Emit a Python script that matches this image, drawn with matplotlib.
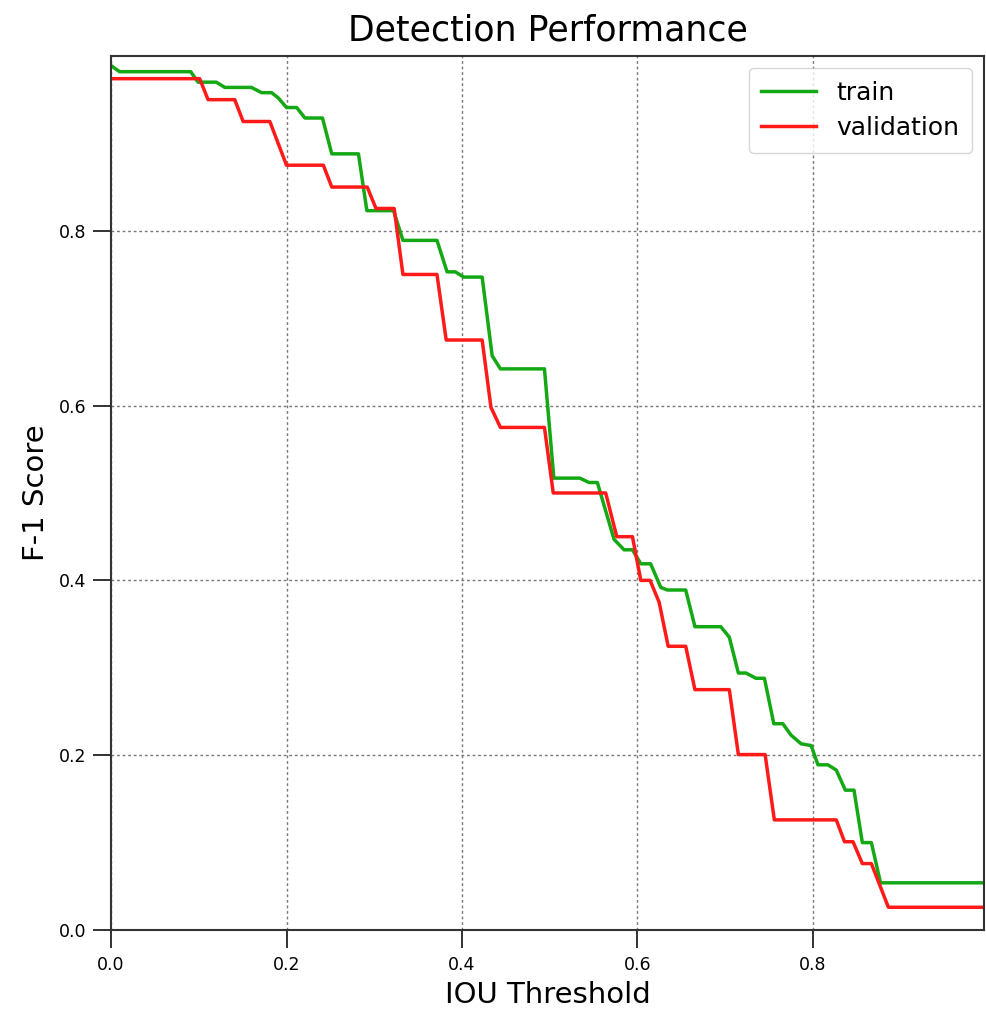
import matplotlib
matplotlib.use("Agg")
import matplotlib.pyplot as plt

# --- data ---
train_x = [0.000, 0.0097, 0.0908, 0.0992, 0.120, 0.1297, 0.160, 0.1716, 0.183, 0.1906,
           0.200, 0.2116, 0.221, 0.241, 0.2516, 0.282, 0.2916, 0.322, 0.3327, 0.3715,
           0.383, 0.3924, 0.402, 0.423, 0.4344, 0.4438, 0.494, 0.5047, 0.5344, 0.5447,
           0.5543, 0.5733, 0.5847, 0.5943, 0.6038, 0.615, 0.6266, 0.634, 0.655, 0.6655,
           0.695, 0.7047, 0.715, 0.7237, 0.735, 0.7447, 0.7554, 0.7657, 0.775, 0.7866,
           0.798, 0.8057, 0.817, 0.8266, 0.8369, 0.8468, 0.8563, 0.8666, 0.877, 0.995]
train_y = [0.989, 0.982, 0.982, 0.970, 0.970, 0.964, 0.964, 0.958, 0.958, 0.952,
           0.941, 0.941, 0.929, 0.929, 0.888, 0.888, 0.823, 0.823, 0.789, 0.789,
           0.753, 0.753, 0.747, 0.747, 0.657, 0.642, 0.642, 0.517, 0.517, 0.512,
           0.512, 0.447, 0.435, 0.435, 0.419, 0.419, 0.392, 0.389, 0.389, 0.347,
           0.347, 0.335, 0.294, 0.294, 0.288, 0.288, 0.236, 0.236, 0.223, 0.213,
           0.211, 0.189, 0.189, 0.183, 0.160, 0.160, 0.100, 0.100, 0.054, 0.054]

val_x = [0.000, 0.101, 0.1106, 0.141, 0.1506, 0.181, 0.200, 0.242, 0.2516, 0.292,
         0.302, 0.3227, 0.3327, 0.3715, 0.382, 0.423, 0.433, 0.4438, 0.494, 0.504,
         0.5638, 0.5764, 0.5943, 0.6038, 0.6144, 0.6247, 0.635, 0.655, 0.6655, 0.7047,
         0.715, 0.7455, 0.756, 0.8266, 0.836, 0.8457, 0.8563, 0.8666, 0.886, 0.995]
val_y = [0.974, 0.974, 0.950, 0.950, 0.925, 0.925, 0.875, 0.875, 0.850, 0.850,
         0.8255, 0.8255, 0.750, 0.750, 0.675, 0.675, 0.598, 0.575, 0.575, 0.500,
         0.500, 0.450, 0.450, 0.400, 0.400, 0.375, 0.3246, 0.3246, 0.275, 0.275,
         0.2007, 0.2007, 0.126, 0.126, 0.101, 0.101, 0.076, 0.076, 0.026, 0.026]

x_ticks = [0.0, 0.2, 0.4, 0.6, 0.8]
y_ticks = [0.0, 0.2, 0.4, 0.6, 0.8]

plt.rcParams["font.family"] = ["DejaVu Sans"]

fig = plt.figure(figsize=(9.86, 10.10), dpi=100)
ax = fig.add_axes([0.1126, 0.0792, 0.8854, 0.8654])

ax.plot(train_x, train_y, color="#15a815", lw=2.5, label="train")
ax.plot(val_x, val_y, color="#ff1a1a", lw=2.5, label="validation")

ax.set_xlim(0, 0.995)
ax.set_ylim(0, 1.0)
ax.set_xticks(x_ticks)
ax.set_yticks(y_ticks)
ax.set_xticklabels([f"{v:.1f}" for v in x_ticks])
ax.set_yticklabels([f"{v:.1f}" for v in y_ticks])
ax.tick_params(axis="both", labelsize=12.5, length=13, width=1.3, color="#222222")
ax.tick_params(axis="x", pad=6)
ax.tick_params(axis="y", pad=5)
ax.grid(True, color="#777777", linestyle=(0, (2, 2)), linewidth=1.0)
for s in ax.spines.values():
    s.set_linewidth(1.5)
    s.set_color("#333333")

ax.set_title("Detection Performance", fontsize=25, pad=11)
ax.set_xlabel("IOU Threshold", fontsize=21, labelpad=5)
ax.set_ylabel("F-1 Score", fontsize=21, labelpad=6)
ax.legend(loc="upper right", fontsize=18, handlelength=2.2, borderpad=0.5,
          labelspacing=0.45, frameon=True, borderaxespad=0.5)

fig.savefig("out.png", dpi=100)
